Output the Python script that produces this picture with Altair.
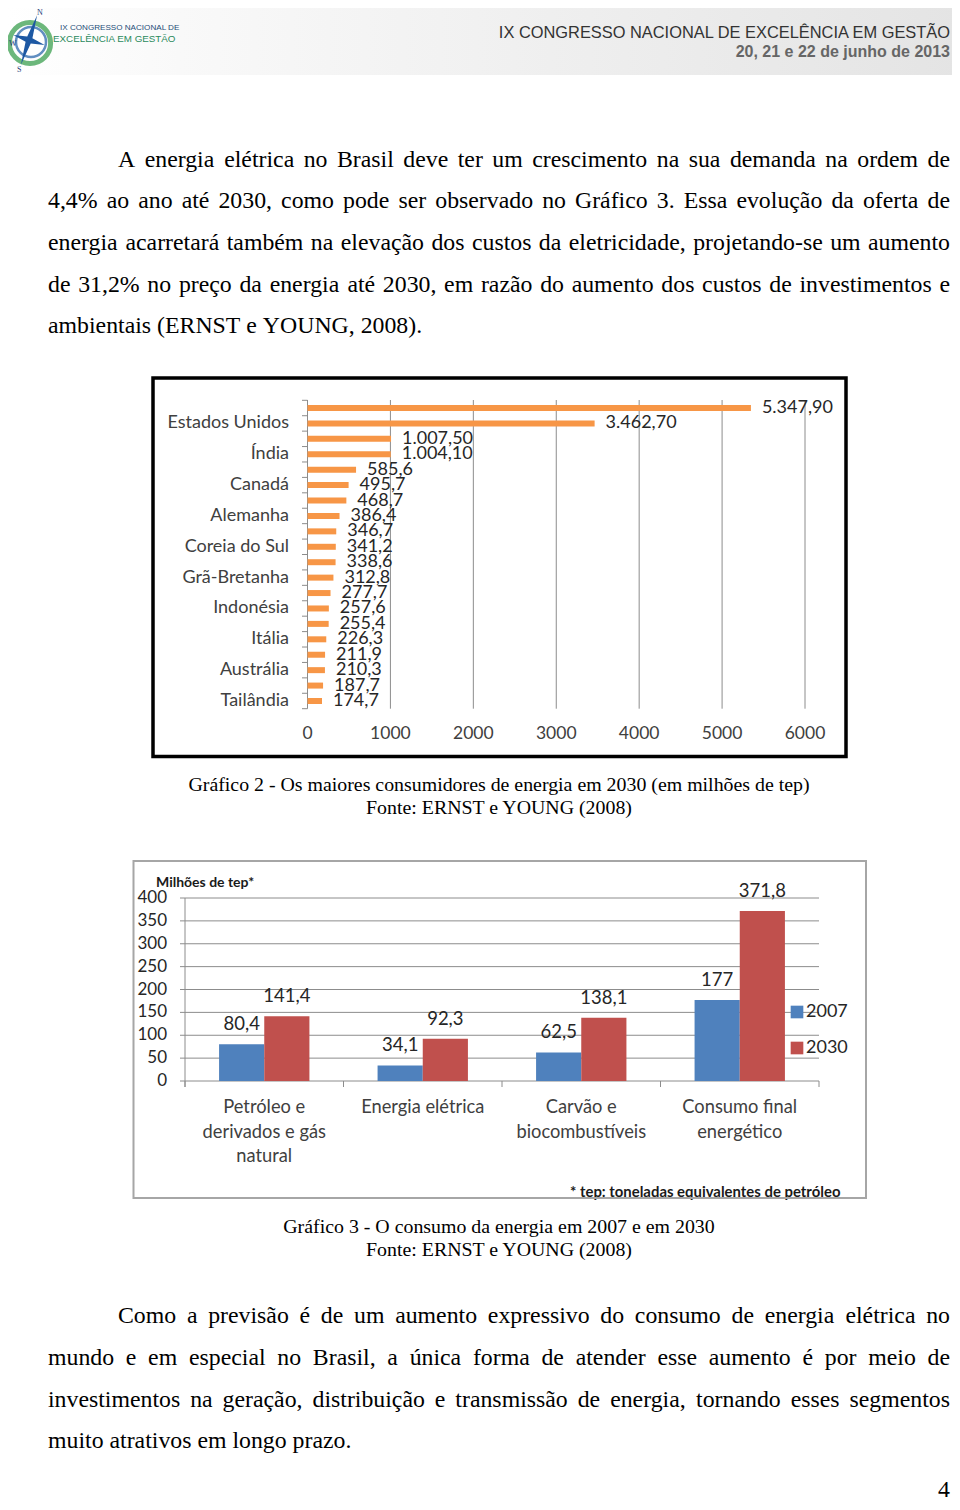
import unicodedata
import altair as alt
import pandas as pd

OFF = 8
def px(v):
    return v - OFF

# ---------------- data ----------------
c1_values = [5347.9, 3462.7, 1007.5, 1004.1, 585.6, 495.7, 468.7, 386.4, 346.7, 341.2,
             338.6, 312.8, 277.7, 257.6, 255.4, 226.3, 211.9, 210.3, 187.7, 174.7]
c1_value_labels = ["5.347,90", "3.462,70", "1.007,50", "1.004,10", "585,6", "495,7", "468,7",
                   "386,4", "346,7", "341,2", "338,6", "312,8", "277,7", "257,6", "255,4",
                   "226,3", "211,9", "210,3", "187,7", "174,7"]
c1_country_labels = ["", "Estados Unidos", "", "Índia", "", "Canadá", "", "Alemanha", "",
                     "Coreia do Sul", "", "Grã-Bretanha", "", "Indonésia", "", "Itália", "",
                     "Austrália", "", "Tailândia"]
c1_ticks = [0, 1000, 2000, 3000, 4000, 5000, 6000]

c2_categories = ["Petróleo e\nderivados e gás\nnatural", "Energia elétrica",
                 "Carvão e\nbiocombustíveis", "Consumo final\nenergético"]
c2_years = ["2007", "2030"]
c2_2007 = [80.4, 34.1, 62.5, 177]
c2_2030 = [141.4, 92.3, 138.1, 371.8]
c2_ticks = [0, 50, 100, 150, 200, 250, 300, 350, 400]

para1 = [
    "A energia elétrica no Brasil deve ter um crescimento na sua demanda na ordem de",
    "4,4% ao ano até 2030, como pode ser observado no Gráfico 3. Essa evolução da oferta de",
    "energia acarretará também na elevação dos custos da eletricidade, projetando-se um aumento",
    "de 31,2% no preço da energia até 2030, em razão do aumento dos custos de investimentos e",
    "ambientais (ERNST e YOUNG, 2008).",
]
para2 = [
    "Como a previsão é de um aumento expressivo do consumo de energia elétrica no",
    "mundo e em especial no Brasil, a única forma de atender esse aumento é por meio de",
    "investimentos na geração, distribuição e transmissão de energia, tornando esses segmentos",
    "muito atrativos em longo prazo.",
]
caption1 = ["Gráfico 2 - Os maiores consumidores de energia em 2030 (em milhões de tep)",
            "Fonte: ERNST e YOUNG (2008)"]
caption2 = ["Gráfico 3 - O consumo da energia em 2007 e em 2030",
            "Fonte: ERNST e YOUNG (2008)"]

# ---------------- text layout helpers ----------------
SERIF = "Liberation Serif, Times New Roman, serif"
SANS = "Lato, Open Sans, sans-serif"
NARROW = "Liberation Sans, Arial, sans-serif"

TW = dict(a=444, b=500, c=444, d=500, e=444, f=333, g=500, h=500, i=278, j=278, k=500, l=278,
          m=778, n=500, o=500, p=500, q=500, r=333, s=389, t=278, u=500, v=500, w=722, x=500,
          y=500, z=444, A=722, B=667, C=667, D=722, E=611, F=556, G=722, H=722, I=333, J=389,
          K=722, L=611, M=889, N=722, O=722, P=556, Q=722, R=667, S=556, T=611, U=722, V=722,
          W=944, X=722, Y=722, Z=611)
TW.update({" ": 250, ",": 250, ".": 250, "%": 833, "(": 333, ")": 333, "-": 333, ":": 278})
for dch in "0123456789":
    TW[dch] = 500


def units(s):
    tot = 0
    for ch in s:
        base = unicodedata.normalize("NFD", ch)[0]
        tot += TW.get(base, 500)
    return tot / 1000.0


def justify(line, left, right, fs, baseline, just=True):
    words = line.split(" ")
    widths = [units(w) * fs for w in words]
    if just and len(words) > 1:
        gap = (right - left - sum(widths)) / (len(words) - 1)
    else:
        gap = units(" ") * fs
    xx = left
    rows = []
    for w, wd in zip(words, widths):
        rows.append({"x": px(xx), "y": px(baseline), "text": w})
        xx += wd + gap
    return rows


def text_layer(rows, fs, font, color, align="left", baseline="alphabetic", weight="normal"):
    df = pd.DataFrame(rows)
    return alt.Chart(df).mark_text(
        align=align, baseline=baseline, font=font, fontSize=fs, color=color, fontWeight=weight
    ).encode(
        x=alt.X("x:Q", scale=None, axis=None),
        y=alt.Y("y:Q", scale=None, axis=None),
        text="text:N",
    )


def box(x0, x1, y0, y1, stroke, sw):
    return alt.Chart(pd.DataFrame({"a": [0]})).mark_rect(
        fill="transparent", stroke=stroke, strokeWidth=sw
    ).encode(x=alt.value(px(x0)), x2=alt.value(px(x1)), y=alt.value(px(y0)), y2=alt.value(px(y1)))


def pt(x, y):
    return pd.DataFrame({"x": [px(x)], "y": [px(y)]})


PXY = dict(x=alt.X("x:Q", scale=None, axis=None), y=alt.Y("y:Q", scale=None, axis=None))

layers = []

# ---------------- header ----------------
header_bg = alt.Chart(pd.DataFrame({"a": [0]})).mark_rect(
    color=alt.LinearGradient(gradient="linear", x1=0, x2=1, y1=0, y2=0,
                             stops=[alt.GradientStop(offset=0, color="#ffffff"),
                                    alt.GradientStop(offset=0.18, color="#f9f9f9"),
                                    alt.GradientStop(offset=1, color="#e4e4e4")])
).encode(x=alt.value(0), x2=alt.value(952), y=alt.value(0), y2=alt.value(px(75)))
layers.append(header_bg)
layers.append(text_layer([{"x": px(950), "y": px(38), "text": "IX CONGRESSO NACIONAL DE EXCELÊNCIA EM GESTÃO"}],
                         16.4, NARROW, "#333333", align="right"))
layers.append(text_layer([{"x": px(950), "y": px(57), "text": "20, 21 e 22 de junho de 2013"}],
                         16, NARROW, "#666666", align="right", weight="bold"))

# logo
layers.append(alt.Chart(pt(30, 43)).mark_point(
    shape="circle", filled=False, stroke="#2f9a45", strokeWidth=5, size=1700).encode(**PXY))
layers.append(alt.Chart(pt(31, 42)).mark_point(
    shape="circle", filled=False, stroke="#1f5fa8", strokeWidth=2.5, size=900).encode(**PXY))
layers.append(alt.Chart(pt(29, 40)).mark_point(
    shape="M0,-1.35L0.14,-0.14L0.85,0L0.14,0.14L0,1.35L-0.14,0.14L-0.85,0L-0.14,-0.14Z",
    filled=True, color="#1d58a3", size=1500, opacity=1, angle=18).encode(**PXY))
layers.append(text_layer([{"x": px(37), "y": px(15), "text": "N"},
                          {"x": px(17), "y": px(72), "text": "S"},
                          {"x": px(9), "y": px(46), "text": "W"}], 8, SERIF, "#1f3f7a"))
layers.append(text_layer([{"x": px(60), "y": px(29.5), "text": "IX CONGRESSO NACIONAL DE"}],
                         8.1, NARROW, "#1e4d78"))
layers.append(text_layer([{"x": px(53), "y": px(42), "text": "EXCELÊNCIA EM GESTÃO"}],
                         9.8, NARROW, "#2a8a5c"))

# ---------------- paragraphs ----------------
FS_BODY = 23.8
rows = []
base1 = [166.5, 208.2, 249.9, 291.6, 333.3]
for i, (ln, b) in enumerate(zip(para1, base1)):
    left = 118 if i == 0 else 48
    rows += justify(ln, left, 950, FS_BODY, b, just=(i < len(para1) - 1))
base2 = [1323.3, 1365.0, 1406.7, 1448.4]
for i, (ln, b) in enumerate(zip(para2, base2)):
    left = 118 if i == 0 else 48
    rows += justify(ln, left, 950, FS_BODY, b, just=(i < len(para2) - 1))
layers.append(text_layer(rows, FS_BODY, SERIF, "#000000"))
layers.append(text_layer([{"x": px(950), "y": px(1497), "text": "4"}], FS_BODY, SERIF, "#000000", align="right"))

# captions
FS_CAP = 622.0 / units(caption1[0])
cap_rows = [{"x": px(499), "y": px(791), "text": caption1[0]},
            {"x": px(499), "y": px(814), "text": caption1[1]},
            {"x": px(499), "y": px(1233), "text": caption2[0]},
            {"x": px(499), "y": px(1256), "text": caption2[1]}]
layers.append(text_layer(cap_rows, FS_CAP, SERIF, "#000000", align="center"))

# ---------------- chart 1 (horizontal bars) ----------------
df1 = pd.DataFrame({"idx": list(range(len(c1_values))), "value": c1_values,
                    "vlabel": c1_value_labels, "country": c1_country_labels})
dft1 = pd.DataFrame({"value": c1_ticks, "label": [str(t) for t in c1_ticks]})
X1 = alt.X("value:Q", scale=alt.Scale(domain=[0, 6000], range=[px(307.5), px(805)], nice=False), axis=None)
Y1 = alt.Y("idx:O", scale=alt.Scale(domain=list(range(len(c1_values))), range=[px(400.3), px(708.7)],
                                     paddingInner=0, paddingOuter=0), axis=None)
Y1b = alt.Y("idx:O", bandPosition=0, axis=None)
c1_grid = alt.Chart(dft1[dft1.value > 0]).mark_rule(color="#8c8c8c", strokeWidth=1).encode(
    x=X1, y=alt.value(px(400)), y2=alt.value(px(708.7)))
c1_axis = alt.Chart(pd.DataFrame({"a": [0]})).mark_rule(color="#8c8c8c", strokeWidth=1).encode(
    x=alt.value(px(307.5)), y=alt.value(px(400)), y2=alt.value(px(708.7)))
c1_yticks = alt.Chart(df1).mark_rule(color="#8c8c8c", strokeWidth=1).encode(
    y=Y1b, x=alt.value(px(302)), x2=alt.value(px(307.5)))
c1_yticks_end = alt.Chart(df1[df1.idx == len(c1_values) - 1]).mark_rule(color="#8c8c8c", strokeWidth=1).encode(
    y=alt.Y("idx:O", bandPosition=1, axis=None), x=alt.value(px(302)), x2=alt.value(px(307.5)))
c1_bars = alt.Chart(df1).mark_bar(color="#F79646", size=6).encode(x=X1, y=Y1)
c1_vlab = alt.Chart(df1).mark_text(align="left", baseline="middle", dx=11, font=SANS, fontSize=18,
                                   color="#262626").encode(x=X1, y=Y1, text="vlabel:N")
c1_cats = alt.Chart(df1).mark_text(align="right", baseline="middle", font=SANS, fontSize=18,
                                   color="#404040").encode(x=alt.value(px(289)), y=Y1, text="country:N")
c1_xlab = alt.Chart(dft1).mark_text(align="center", baseline="middle", font=SANS, fontSize=17.5,
                                    color="#404040").encode(x=X1, y=alt.value(px(734)), text="label:N")
chart1 = alt.layer(c1_grid, c1_axis, c1_yticks, c1_yticks_end, c1_bars, c1_vlab, c1_cats, c1_xlab)
layers.append(chart1)
layers.append(box(153, 846, 378, 756.5, "#000000", 3.5))

# ---------------- chart 2 (grouped bars) ----------------
rows2 = []
for c, a, b in zip(c2_categories, c2_2007, c2_2030):
    for yr, v in zip(c2_years, [a, b]):
        lab = ("%g" % v).replace(".", ",")
        rows2.append({"cat": c, "year": yr, "value": v, "vlabel": lab})
df2 = pd.DataFrame(rows2)
dfc2 = pd.DataFrame({"cat": c2_categories})
dft2 = pd.DataFrame({"value": c2_ticks, "label": [str(t) for t in c2_ticks]})
X2 = alt.X("cat:N", sort=c2_categories,
           scale=alt.Scale(domain=c2_categories, range=[px(185), px(819)], paddingInner=0.43, paddingOuter=0.215),
           axis=None)
XO2 = alt.XOffset("year:N", sort=c2_years, scale=alt.Scale(domain=c2_years, paddingInner=0, paddingOuter=0))
Y2 = alt.Y("value:Q", scale=alt.Scale(domain=[0, 400], range=[px(1081), px(898)], nice=False), axis=None)
COL2 = alt.Color("year:N", scale=alt.Scale(domain=c2_years, range=["#4F81BD", "#C0504D"]), legend=None)

c2_grid = alt.Chart(dft2).mark_rule(color="#8c8c8c", strokeWidth=1).encode(
    y=Y2, x=alt.value(px(185)), x2=alt.value(px(819)))
c2_yt = alt.Chart(dft2).mark_rule(color="#8c8c8c", strokeWidth=1).encode(
    y=Y2, x=alt.value(px(180)), x2=alt.value(px(185)))
c2_ylab = alt.Chart(dft2).mark_text(align="right", baseline="middle", font=SANS, fontSize=17,
                                    color="#262626").encode(y=Y2, x=alt.value(px(167)), text="label:N")
c2_bars = alt.Chart(df2).mark_bar().encode(x=X2, xOffset=XO2, y=Y2, color=COL2)
c2_vlab = alt.Chart(df2).mark_text(align="center", baseline="middle", dy=-20, font=SANS, fontSize=18.5,
                                   color="#262626").encode(x=X2, xOffset=XO2, y=Y2, text="vlabel:N")
c2_cats = alt.Chart(dfc2).mark_text(align="center", baseline="alphabetic", lineBreak="\n", lineHeight=24.5,
                                    font=SANS, fontSize=18.3, color="#404040").encode(
    x=X2, y=alt.value(px(1113)), text="cat:N")
chart2 = alt.layer(c2_grid, c2_yt, c2_bars, c2_vlab, c2_ylab, c2_cats)
layers.append(chart2)

# axis line + category boundary ticks
c2_vaxis = alt.Chart(pd.DataFrame({"a": [0]})).mark_rule(color="#8c8c8c", strokeWidth=1).encode(
    x=alt.value(px(185)), y=alt.value(px(898)), y2=alt.value(px(1087)))
layers.append(c2_vaxis)
bounds = pd.DataFrame({"x": [px(185 + i * 158.5) for i in range(5)]})
layers.append(alt.Chart(bounds).mark_rule(color="#8c8c8c", strokeWidth=1).encode(
    x=alt.X("x:Q", scale=None, axis=None), y=alt.value(px(1081)), y2=alt.value(px(1087))))

# legend
leg = pd.DataFrame({"year": c2_years, "x": [px(797), px(797)], "y": [px(1012), px(1048)],
                    "tx": [px(806), px(806)]})
layers.append(alt.Chart(leg).mark_square(size=160, opacity=1).encode(
    x=alt.X("x:Q", scale=None, axis=None), y=alt.Y("y:Q", scale=None, axis=None),
    color=alt.Color("year:N", scale=alt.Scale(domain=c2_years, range=["#4F81BD", "#C0504D"]), legend=None)))
layers.append(alt.Chart(leg).mark_text(align="left", baseline="middle", font=SANS, fontSize=18,
                                       color="#262626").encode(
    x=alt.X("tx:Q", scale=None, axis=None), y=alt.Y("y:Q", scale=None, axis=None), text="year:N"))

layers.append(text_layer([{"x": px(156), "y": px(887), "text": "Milhões de tep*"}], 14, SANS, "#1a1a1a",
                         weight="bold"))
layers.append(text_layer([{"x": px(570), "y": px(1197), "text": "* tep: toneladas  equivalentes de petróleo"}],
                         14.9, SANS, "#1a1a1a", weight="bold"))
layers.append(box(133.5, 866, 861, 1198, "#a6a6a6", 2))

chart = alt.layer(*layers).resolve_scale(
    x="independent", y="independent", color="independent"
).properties(
    width=944, height=1494, padding=0, autosize=alt.AutoSizeParams(type="none")
).configure_view(stroke=None)

chart.save("out.html", embed_options={"renderer": "svg", "actions": False})
